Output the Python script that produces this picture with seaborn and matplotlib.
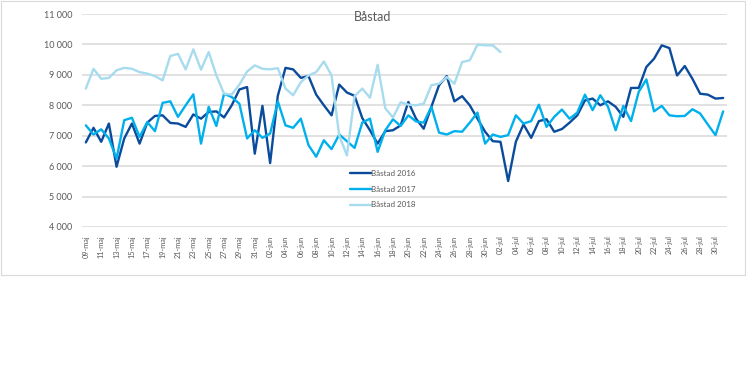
import matplotlib
matplotlib.use("Agg")
import matplotlib.pyplot as plt
from matplotlib.patches import Rectangle
from matplotlib.ticker import FuncFormatter, MultipleLocator
import seaborn as sns
import pandas as pd

# categories: 09-maj .. 31-jul
months = [("maj", 9, 31), ("jun", 1, 30), ("jul", 1, 31)]
days = [f"{d:02d}-{m}" for m, start, end in months for d in range(start, end + 1)]

bastad_2016 = [
    6780, 7260, 6800, 7400, 5980, 6910, 7400, 6740, 7430, 7650,
    7670, 7420, 7400, 7290, 7700, 7560, 7780, 7800, 7600, 8000,
    8520, 8600, 6410, 7980, 6100, 8310, 9230, 9180, 8900, 8960,
    8350, 8000, 7670, 8680, 8420, 8310, 7580, 7180, 6740, 7150,
    7180, 7340, 8110, 7560, 7230, 7950, 8660, 8960, 8130, 8300,
    8000, 7560, 7130, 6820, 6800, 5510, 6800, 7370, 6930, 7480,
    7540, 7130, 7220, 7430, 7670, 8160, 8220, 8000, 8130, 7950,
    7620, 8570, 8570, 9260, 9530, 9970, 9880, 8980, 9290, 8870,
    8380, 8350, 8220, 8240,
]
bastad_2017 = [
    7340, 7040, 7210, 6910, 6250, 7510, 7590, 6960, 7450, 7150,
    8080, 8130, 7620, 8000, 8360, 6740, 7950, 7320, 8380, 8270,
    8050, 6910, 7180, 6930, 7070, 8130, 7340, 7260, 7560, 6690,
    6310, 6850, 6560, 7040, 6820, 6600, 7430, 7560, 6470, 7180,
    7540, 7320, 7670, 7470, 7430, 7950, 7100, 7040, 7150, 7130,
    7430, 7760, 6740, 7040, 6960, 7020, 7670, 7400, 7480, 8020,
    7290, 7620, 7860, 7560, 7760, 8350, 7840, 8330, 7950, 7180,
    7980, 7480, 8440, 8850, 7800, 7980, 7670, 7640, 7650, 7870,
    7730, 7370, 7020, 7800,
]
bastad_2018 = [
    8550, 9200, 8870, 8900, 9150, 9230, 9200, 9090, 9040, 8960,
    8820, 9620, 9690, 9180, 9840, 9170, 9750, 8980, 8380, 8350,
    8680, 9110, 9310, 9200, 9180, 9220, 8550, 8330, 8760, 8980,
    9090, 9440, 8980, 7000, 6350, 8300, 8550, 8250, 9330, 7900,
    7600, 8100, 8020, 8000, 8050, 8660, 8710, 8930, 8710, 9420,
    9480, 9990, 9970, 9970, 9750,
]

series = {"Båstad 2016": bastad_2016, "Båstad 2017": bastad_2017, "Båstad 2018": bastad_2018}
colors = {"Båstad 2016": "#0b4b9c", "Båstad 2017": "#00b0ec", "Båstad 2018": "#a7dbee"}

rows = []
for name, vals in series.items():
    for i, v in enumerate(vals):
        rows.append({"idx": i, "dag": days[i], "antal": v, "serie": name})
df = pd.DataFrame(rows)

sns.set_style("white")
plt.rcParams["font.family"] = ["Lato", "DejaVu Sans"]
txt = "#595959"
grid = "#d9d9d9"

fig = plt.figure(figsize=(7.46, 3.89), dpi=100)
ax = fig.add_axes([82 / 746, 1 - 227 / 389, 645 / 746, 213 / 389])

for y in range(4000, 11001, 1000):
    ax.axhline(y, color=grid, lw=1.1, zorder=0)

sns.lineplot(data=df, x="idx", y="antal", hue="serie", palette=colors,
             hue_order=list(series), linewidth=1.7, ax=ax, legend=True)

ax.set_xlim(-0.5, len(days) - 0.5)
ax.set_ylim(4000, 11000)
for s in ax.spines.values():
    s.set_visible(False)

ax.yaxis.set_major_locator(MultipleLocator(1000))
ax.yaxis.set_major_formatter(FuncFormatter(lambda v, p: f"{int(v):,}".replace(",", " ")))
ax.tick_params(axis="y", length=0, pad=7, labelsize=6.5, labelcolor=txt)

ax.set_xticks(range(0, len(days), 2))
ax.set_xticklabels(days[::2], rotation=90)
ax.set_xticks([x - 0.5 for x in range(1, len(days) + 1, 2)] + [-0.5], minor=True)
ax.tick_params(axis="x", which="major", length=0, pad=6, labelsize=5.3, labelcolor=txt)
ax.tick_params(axis="x", which="minor", length=3, width=0.8, color=grid)
ax.set_xlabel("")
ax.set_ylabel("")

leg = ax.legend(loc="upper left", bbox_to_anchor=(0.41, 0.288), frameon=False,
                fontsize=5.8, handlelength=2.5, labelspacing=1.1, handletextpad=0.1,
                borderpad=0)
for t in leg.get_texts():
    t.set_color(txt)

fig.text(0.5, 1 - 17 / 389, "Båstad", ha="center", va="center", fontsize=9, color=txt)

fig.add_artist(Rectangle((0.5 / 746, 1 - 275 / 389), 744.5 / 746, 274.5 / 389,
                         transform=fig.transFigure, fill=False, ec=grid, lw=0.8))

fig.savefig("out.png", dpi=100)
